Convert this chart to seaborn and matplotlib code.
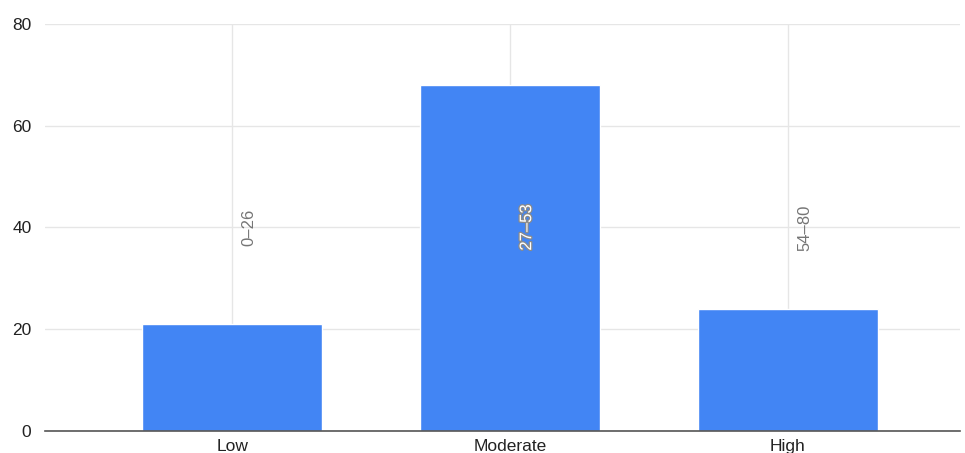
import matplotlib
matplotlib.use("Agg")
import matplotlib.pyplot as plt
import matplotlib.patheffects as pe
import pandas as pd
import seaborn as sns

categories = ["Low", "Moderate", "High"]
counts = [21, 68, 24]
ranges = ["0\u201326", "27\u201353", "54\u201380"]
yticks = [0, 20, 40, 60, 80]

df = pd.DataFrame({"level": categories, "count": counts})

sns.set_style("white")
plt.rcParams["font.family"] = ["Liberation Sans", "DejaVu Sans"]

fig = plt.figure(figsize=(9.65, 4.53), dpi=100)
ax = fig.add_axes([0.047, 0.049, 0.948, 0.898])

sns.barplot(data=df, x="level", y="count", color="#4285F4", width=0.65,
            saturation=1, ax=ax, zorder=3)

for i, lab in enumerate(ranges):
    inside = counts[i] > 40
    t = ax.text(i + 0.06, 40, lab, rotation=90, ha="center", va="center",
                fontsize=12, color="white" if inside else "#757575", zorder=5)
    if inside:
        t.set_path_effects([pe.withStroke(linewidth=1.8, foreground="#8a8a8a")])

ax.set_ylim(0, 80)
ax.set_xlim(-0.672, 2.62)
ax.set_yticks(yticks)
ax.grid(True, axis="both", color="#e6e6e6", linewidth=1, zorder=0)
ax.set_axisbelow(True)
for s in ["top", "right", "left"]:
    ax.spines[s].set_visible(False)
ax.spines["bottom"].set_color("#555555")
ax.spines["bottom"].set_linewidth(1.2)
ax.spines["bottom"].set_zorder(4)
ax.tick_params(axis="both", length=0, labelsize=12.5, colors="#222222")
ax.tick_params(axis="x", pad=6)
ax.tick_params(axis="y", pad=10)
ax.set_xlabel("")
ax.set_ylabel("")

fig.savefig("out.png", dpi=100)
